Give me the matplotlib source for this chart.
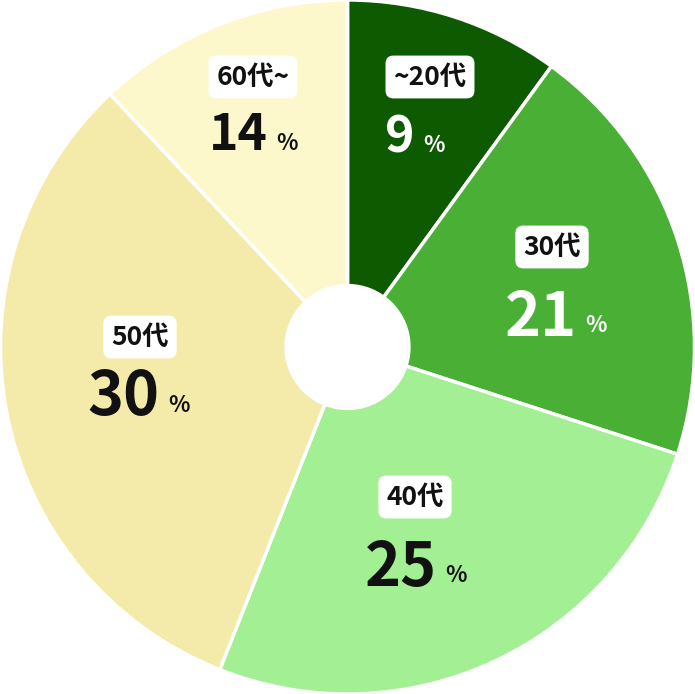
import matplotlib
matplotlib.use("Agg")
import matplotlib.pyplot as plt

categories = ["~20代", "30代", "40代", "50代", "60代~"]
percent_labels = [9, 21, 25, 30, 14]
slice_shares = [10, 20, 26, 32, 12]
colors = ["#0d5a00", "#4ab035", "#a3ef93", "#f4eaa9", "#fdf8cc"]
text_colors = ["white", "white", "#111111", "#111111", "#111111"]
cat_pos = [(430, 77), (552, 247), (415, 497), (140, 337), (253, 77)]
num_right = [(415, 138), (577, 318), (437, 568), (160, 397), (268, 136)]
num_sizes = [36, 44, 44, 44, 36]

plt.rcParams['font.family'] = ['Noto Sans CJK JP', 'DejaVu Sans']
W, H = 695, 694
fig = plt.figure(figsize=(W/100, H/100), dpi=100)
ax = fig.add_axes([0, 0, 1, 1])
ax.pie(slice_shares, colors=colors, startangle=90, counterclock=False,
       radius=1.0, wedgeprops=dict(edgecolor="white", linewidth=2.5))
ax.add_patch(plt.Circle((0, 0), 0.18, color="white", zorder=5))
ax.set_xlim(-1.0, 1.0)
ax.set_ylim(-1.0, 1.0)
ax.set_aspect("equal")
ax.axis("off")

for i, c in enumerate(categories):
    cx, cy = cat_pos[i]
    fig.text(cx / W, 1 - cy / H, c, ha="center", va="center", fontsize=19,
             fontweight="bold", color="#111111",
             bbox=dict(boxstyle="round,pad=0.3,rounding_size=0.3",
                       fc="white", ec="none"))
    nx, ny = num_right[i]
    fig.text(nx / W, 1 - ny / H, str(percent_labels[i]), ha="right", va="center",
             fontsize=num_sizes[i], fontweight="bold", color=text_colors[i])
    fig.text((nx + 8) / W, 1 - (ny + 8) / H, "%", ha="left", va="center",
             fontsize=16, fontweight="bold", color=text_colors[i])

fig.savefig("out.png", dpi=100, facecolor="white")
